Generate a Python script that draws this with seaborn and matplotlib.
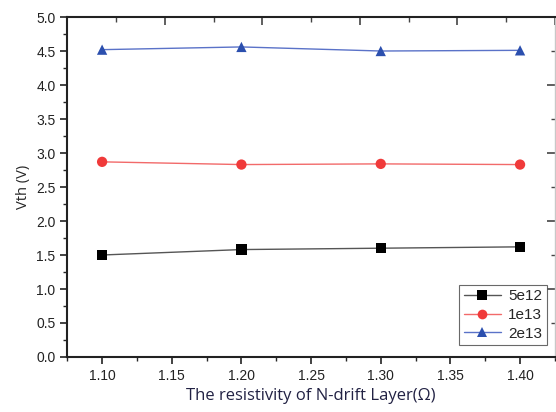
import pandas as pd
import numpy as np
import matplotlib.pyplot as plt
import seaborn as sns
from matplotlib.ticker import MultipleLocator
from matplotlib.lines import Line2D

sns.set_theme(style="ticks")
plt.rcParams['font.family'] = ['Liberation Sans', 'DejaVu Sans']

resistivity = [1.10, 1.20, 1.30, 1.40]
vth_5e12 = [1.50, 1.58, 1.60, 1.62]
vth_1e13 = [2.87, 2.83, 2.84, 2.83]
vth_2e13 = [4.52, 4.56, 4.50, 4.51]
series = ["5e12", "1e13", "2e13"]

df = pd.DataFrame({
    "x": resistivity * 3,
    "vth": vth_5e12 + vth_1e13 + vth_2e13,
    "doping": sum([[s] * len(resistivity) for s in series], []),
})

marker_colors = {"5e12": "#000000", "1e13": "#f03a3a", "2e13": "#2b4fae"}
line_colors = {"5e12": "#555555", "1e13": "#f26a6a", "2e13": "#5a72c8"}
markers = {"5e12": "s", "1e13": "o", "2e13": "^"}

XMIN, XMAX = 1.075, 1.425

fig, ax = plt.subplots(figsize=(5.56, 4.12), dpi=100)
fig.subplots_adjust(left=0.121, right=0.998, top=0.9587, bottom=0.1335)

sns.lineplot(data=df, x="x", y="vth", hue="doping", palette=line_colors,
             linewidth=1, legend=False, ax=ax)
sns.scatterplot(data=df, x="x", y="vth", hue="doping", style="doping",
                palette=marker_colors, markers=markers, s=55, linewidth=0,
                legend=False, ax=ax, zorder=3)

ax.set_xlim(XMIN, XMAX)
ax.set_ylim(0, 5.0)
ax.xaxis.set_major_locator(MultipleLocator(0.05))
ax.xaxis.set_minor_locator(MultipleLocator(0.025))
ax.yaxis.set_major_locator(MultipleLocator(0.5))
ax.yaxis.set_minor_locator(MultipleLocator(0.25))
ax.xaxis.set_major_formatter(plt.FuncFormatter(lambda v, p: f"{v:.2f}"))
ax.yaxis.set_major_formatter(plt.FuncFormatter(lambda v, p: f"{v:.1f}"))

for side in ["left", "bottom", "top"]:
    ax.spines[side].set_linewidth(1.5)
    ax.spines[side].set_color("#222222")
ax.spines["right"].set_linewidth(1)
ax.spines["right"].set_color("#c8c8c8")
ax.tick_params(which="major", length=5, width=1.2, labelsize=10, colors="#222222")
ax.tick_params(which="minor", length=3, width=1)

# mirrored ticks on top and right (Origin style, own 0-5 scale on top)
top = ax.secondary_xaxis("top", functions=(lambda x: (x - XMIN) / (XMAX - XMIN) * 5,
                                           lambda u: u * (XMAX - XMIN) / 5 + XMIN))
top.xaxis.set_major_locator(MultipleLocator(1))
top.xaxis.set_minor_locator(MultipleLocator(0.5))
top.tick_params(which="major", direction="in", length=6, width=1.2,
                labeltop=False, colors="#444444")
top.tick_params(which="minor", direction="in", length=3.5, width=1, colors="#444444")
top.spines["top"].set_visible(False)

right = ax.secondary_yaxis("right")
right.yaxis.set_major_locator(MultipleLocator(1))
right.yaxis.set_minor_locator(MultipleLocator(0.5))
right.tick_params(which="major", direction="in", length=6, width=1.2,
                  labelright=False, colors="#444444")
right.tick_params(which="minor", direction="in", length=3, width=1, colors="#444444")
right.spines["right"].set_visible(False)

ax.set_xlabel("The resistivity of N-drift Layer(Ω)", fontsize=12,
              family=["Open Sans", "DejaVu Sans"], color="#222244")
ax.set_ylabel("Vth (V)", fontsize=10.5, family=["Open Sans", "DejaVu Sans"])

handles = [Line2D([], [], color=line_colors[s], marker=markers[s],
                  markerfacecolor=marker_colors[s], markeredgewidth=0,
                  markersize=7, linewidth=1) for s in series]
leg = ax.legend(handles, series, loc="lower right", bbox_to_anchor=(0.9836, 0.035),
                fontsize=11, frameon=True, fancybox=False, borderpad=0.3,
                labelspacing=0.3, handlelength=2.4, handletextpad=0.5,
                borderaxespad=0)
leg.get_frame().set_edgecolor("#444444")
leg.get_frame().set_linewidth(0.8)

plt.savefig("out.png", dpi=100)
